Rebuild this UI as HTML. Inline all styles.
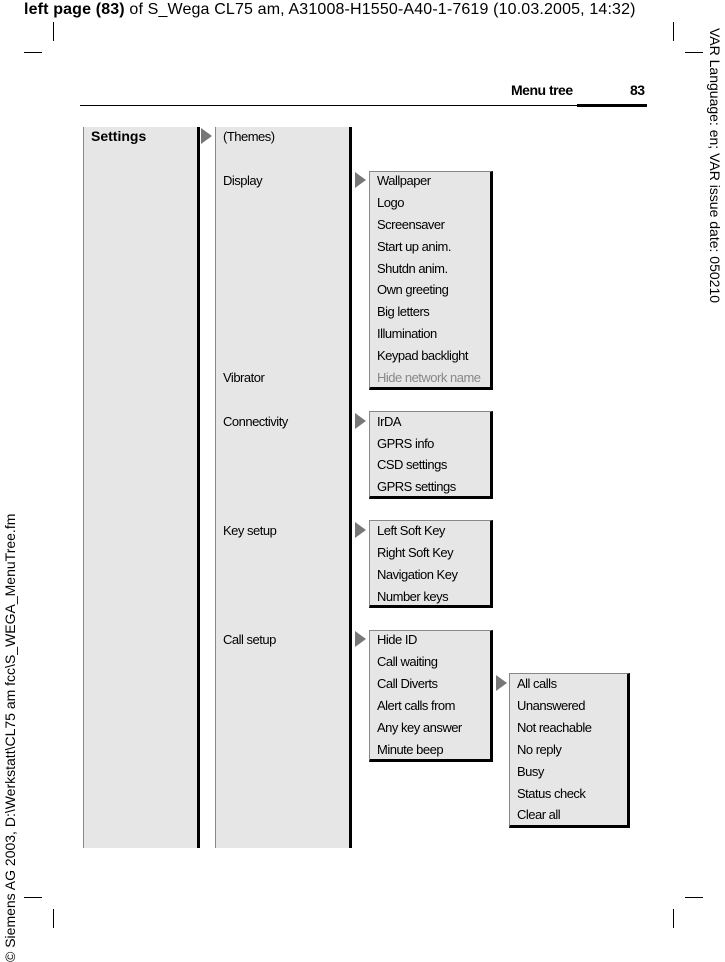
<!DOCTYPE html>
<html><head><meta charset="utf-8"><style>
*{margin:0;padding:0;box-sizing:border-box}
body{width:725px;height:962px;background:#fff;position:relative;overflow:hidden;font-family:"Liberation Sans",Arial,sans-serif;color:#000}
.a{position:absolute}
.t{position:absolute;font-size:13px;letter-spacing:-0.5px;white-space:nowrap;line-height:16px;margin-top:1px}
.col{position:absolute;background:#e6e6e6;border-left:1px solid #888;border-right:3px solid #000}
.box{position:absolute;background:#e6e6e6;border-left:1px solid #888;border-top:1px solid #888;border-right:3px solid #000;border-bottom:3px solid #000}
.arr{position:absolute;width:0;height:0;border-top:8px solid transparent;border-bottom:8px solid transparent;border-left:11px solid #777}
.h{position:absolute;height:1px;background:#000}
.v{position:absolute;width:1px;background:#000}
</style></head><body>
<div class="a" style="left:24px;top:0px;font-size:16px;letter-spacing:0.15px;line-height:20px;white-space:nowrap"><b>left page (83)</b> of S_Wega CL75 am, A31008-H1550-A40-1-7619 (10.03.2005, 14:32)</div>
<div class="a" style="left:705px;top:28px;transform-origin:0 0;transform:translate(20px,0) rotate(90deg);font-size:14px;white-space:nowrap;line-height:20px">VAR Language: en; VAR issue date: 050210</div>
<div class="a" style="left:0px;top:962px;transform-origin:0 0;transform:rotate(-90deg);font-size:14px;white-space:nowrap;line-height:20px">© Siemens AG 2003, D:\Werkstatt\CL75 am fcc\S_WEGA_MenuTree.fm</div>
<!-- crop marks -->
<div class="v" style="left:53px;top:22px;height:19px"></div><div class="h" style="left:24px;top:52px;width:18px"></div>
<div class="v" style="left:673px;top:22px;height:19px"></div><div class="h" style="left:685px;top:52px;width:18px"></div>
<div class="h" style="left:24px;top:897px;width:18px"></div><div class="v" style="left:53px;top:909px;height:19px"></div>
<div class="h" style="left:685px;top:897px;width:18px"></div><div class="v" style="left:673px;top:909px;height:19px"></div>
<!-- header -->
<div class="t" style="left:511px;top:81px;font-weight:bold;font-size:14px">Menu tree</div>
<div class="t" style="left:630px;top:81px;font-weight:bold;font-size:14px">83</div>
<div class="h" style="left:80px;top:105px;width:498px"></div>
<div class="a" style="left:577px;top:104px;width:70px;height:3px;background:#000"></div>
<!-- columns -->
<div class="col" style="left:83px;top:127px;width:117px;height:721px"></div>
<div class="col" style="left:215px;top:127px;width:137px;height:721px"></div>
<div class="t" style="left:91px;top:127px;font-weight:bold;font-size:14px;letter-spacing:0">Settings</div>
<div class="arr" style="left:201px;top:128px"></div>
<div class="t" style="left:223px;top:128px">(Themes)</div>
<div class="t" style="left:223px;top:172px">Display</div>
<div class="t" style="left:223px;top:369px">Vibrator</div>
<div class="t" style="left:223px;top:413px">Connectivity</div>
<div class="t" style="left:223px;top:522px">Key setup</div>
<div class="t" style="left:223px;top:631px">Call setup</div>
<!-- boxes -->
<div class="arr" style="left:355px;top:172px"></div>
<div class="box" style="left:369px;top:171px;width:124px;height:219px"></div>
<div class="t" style="left:377px;top:172px">Wallpaper</div>
<div class="t" style="left:377px;top:194px">Logo</div>
<div class="t" style="left:377px;top:216px">Screensaver</div>
<div class="t" style="left:377px;top:238px">Start up anim.</div>
<div class="t" style="left:377px;top:260px">Shutdn anim.</div>
<div class="t" style="left:377px;top:281px">Own greeting</div>
<div class="t" style="left:377px;top:303px">Big letters</div>
<div class="t" style="left:377px;top:325px">Illumination</div>
<div class="t" style="left:377px;top:347px">Keypad backlight</div>
<div class="t" style="left:377px;top:369px;color:#888">Hide network name</div>

<div class="arr" style="left:355px;top:413px"></div>
<div class="box" style="left:369px;top:411px;width:124px;height:88px"></div>
<div class="t" style="left:377px;top:413px">IrDA</div>
<div class="t" style="left:377px;top:435px">GPRS info</div>
<div class="t" style="left:377px;top:456px">CSD settings</div>
<div class="t" style="left:377px;top:478px">GPRS settings</div>

<div class="arr" style="left:355px;top:522px"></div>
<div class="box" style="left:369px;top:520px;width:124px;height:88px"></div>
<div class="t" style="left:377px;top:522px">Left Soft Key</div>
<div class="t" style="left:377px;top:544px">Right Soft Key</div>
<div class="t" style="left:377px;top:566px">Navigation Key</div>
<div class="t" style="left:377px;top:588px">Number keys</div>

<div class="arr" style="left:355px;top:631px"></div>
<div class="box" style="left:369px;top:630px;width:124px;height:132px"></div>
<div class="t" style="left:377px;top:631px">Hide ID</div>
<div class="t" style="left:377px;top:653px">Call waiting</div>
<div class="t" style="left:377px;top:675px">Call Diverts</div>
<div class="t" style="left:377px;top:697px">Alert calls from</div>
<div class="t" style="left:377px;top:719px">Any key answer</div>
<div class="t" style="left:377px;top:741px">Minute beep</div>

<div class="arr" style="left:496px;top:675px"></div>
<div class="box" style="left:509px;top:673px;width:121px;height:155px"></div>
<div class="t" style="left:517px;top:675px">All calls</div>
<div class="t" style="left:517px;top:697px">Unanswered</div>
<div class="t" style="left:517px;top:719px">Not reachable</div>
<div class="t" style="left:517px;top:741px">No reply</div>
<div class="t" style="left:517px;top:763px">Busy</div>
<div class="t" style="left:517px;top:785px">Status check</div>
<div class="t" style="left:517px;top:806px">Clear all</div>
</body></html>
